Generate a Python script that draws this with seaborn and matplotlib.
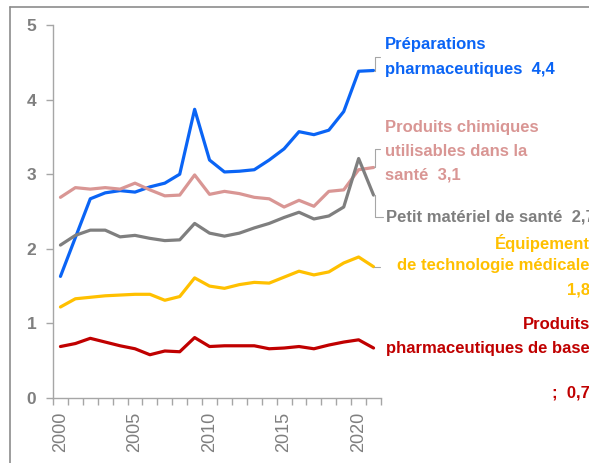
import numpy as np
import pandas as pd
import matplotlib
matplotlib.use("Agg")
import matplotlib.pyplot as plt
from matplotlib.lines import Line2D
import seaborn as sns

# ── Data ──────────────────────────────────────────────────────
years = list(range(2000, 2022))

preparations = [1.63, 2.15, 2.67, 2.75, 2.78, 2.76, 2.83, 2.88, 3.00, 3.87, 3.19,
                3.03, 3.04, 3.06, 3.19, 3.34, 3.57, 3.53, 3.59, 3.84, 4.38, 4.39]
chimiques = [2.69, 2.82, 2.80, 2.82, 2.80, 2.88, 2.79, 2.71, 2.72, 2.99, 2.73,
             2.77, 2.74, 2.69, 2.67, 2.56, 2.65, 2.57, 2.77, 2.79, 3.06, 3.09]
petit_materiel = [2.05, 2.18, 2.25, 2.25, 2.16, 2.18, 2.14, 2.11, 2.12, 2.34, 2.21,
                  2.17, 2.21, 2.28, 2.34, 2.42, 2.49, 2.40, 2.44, 2.56, 3.21, 2.72]
equipement = [1.22, 1.33, 1.35, 1.37, 1.38, 1.39, 1.39, 1.31, 1.36, 1.61, 1.50,
              1.47, 1.52, 1.55, 1.54, 1.62, 1.70, 1.65, 1.69, 1.81, 1.89, 1.76]
produits_base = [0.69, 0.73, 0.80, 0.75, 0.70, 0.66, 0.58, 0.63, 0.62, 0.81, 0.69,
                 0.70, 0.70, 0.70, 0.66, 0.67, 0.69, 0.66, 0.71, 0.75, 0.78, 0.67]

series_names = ["prep", "chim", "petit", "equip", "base"]
series_values = [preparations, chimiques, petit_materiel, equipement, produits_base]
colors = ["#0A64F5", "#D99694", "#7F7F7F", "#FFC000", "#C00000"]

y_ticks = [0, 1, 2, 3, 4, 5]
x_tick_labels = [2000, 2005, 2010, 2015, 2020]

df = pd.DataFrame({
    "annee": years * len(series_names),
    "valeur": sum(series_values, []),
    "serie": sum([[n] * len(years) for n in series_names], []),
})

# ── Figure ────────────────────────────────────────────────────
sns.set_style("white")
plt.rcParams["font.family"] = ["Liberation Sans", "DejaVu Sans"]

fig = plt.figure(figsize=(5.89, 4.63), dpi=100)
ax = fig.add_axes([53 / 589, 1 - 398 / 463, 328 / 589, 373 / 463])

sns.lineplot(data=df, x="annee", y="valeur", hue="serie",
             palette=dict(zip(series_names, colors)), linewidth=2.3,
             legend=False, ax=ax)

ax.set_xlim(1999.5, 2021.5)
ax.set_ylim(0, 5)
ax.set_xlabel("")
ax.set_ylabel("")

for side in ["top", "right"]:
    ax.spines[side].set_visible(False)
for side in ["left", "bottom"]:
    ax.spines[side].set_color("#A6A6A6")
    ax.spines[side].set_linewidth(1.0)

ax.set_yticks(y_ticks)
ax.set_yticklabels([str(t) for t in y_ticks], color="#7F7F7F",
                   fontweight="bold", fontsize=12.5)
ax.tick_params(axis="y", length=5, width=1, color="#A6A6A6", direction="out", pad=7, left=True)

# ticks sit between the years, labels every 5 years
ax.set_xticks([y + 0.5 for y in [1999] + years])
ax.set_xticks(x_tick_labels, minor=True)
ax.set_xticklabels([])
ax.set_xticklabels([str(t) for t in x_tick_labels], minor=True, rotation=90,
                   color="#7F7F7F", fontsize=13)
ax.tick_params(axis="x", which="major", length=5, width=1, color="#A6A6A6",
               direction="out", bottom=True)
ax.tick_params(axis="x", which="minor", length=0, pad=10)

# ── Labels ────────────────────────────────────────────────────
def px_y(py):
    return (398 - py) / 74.6


def px_x(px):
    return 2000 + (px - 62) / 14.9


def fmt(v):
    return f"{v:.1f}".replace(".", ",")


lab_kw = dict(fontsize=12, fontweight="bold", clip_on=False, va="center")

ax.text(px_x(386), px_y(45), "Préparations", color=colors[0], ha="left", **lab_kw)
ax.text(px_x(386), px_y(70), "pharmaceutiques  " + fmt(preparations[-1]),
        color=colors[0], ha="left", **lab_kw)

ax.text(px_x(386), px_y(128), "Produits chimiques", color=colors[1], ha="left", **lab_kw)
ax.text(px_x(386), px_y(152), "utilisables dans la", color=colors[1], ha="left", **lab_kw)
ax.text(px_x(386), px_y(175), "santé  " + fmt(chimiques[-1]),
        color=colors[1], ha="left", **lab_kw)

ax.text(px_x(387), px_y(217), "Petit matériel de santé  " + fmt(petit_materiel[-1]),
        color=colors[2], ha="left", **lab_kw)

ax.text(px_x(591), px_y(243), "Équipement", color=colors[3], ha="right", **lab_kw)
ax.text(px_x(591), px_y(266), "de technologie médicale", color=colors[3], ha="right", **lab_kw)
ax.text(px_x(591), px_y(290), fmt(equipement[-1]), color=colors[3], ha="right", **lab_kw)

ax.text(px_x(591), px_y(325), "Produits", color=colors[4], ha="right", **lab_kw)
ax.text(px_x(591), px_y(348), "pharmaceutiques de base", color=colors[4], ha="right", **lab_kw)
ax.text(px_x(591), px_y(393), ";  " + fmt(produits_base[-1]), color=colors[4], ha="right", **lab_kw)

# leader lines from each series end to its label
lead_kw = dict(color="#A6A6A6", lw=0.8, clip_on=False)
x_end = years[-1]
ax.plot([x_end, px_x(376), px_x(376), px_x(381)],
        [preparations[-1], preparations[-1], px_y(57), px_y(57)], **lead_kw)
ax.plot([x_end, px_x(376), px_x(376), px_x(381)],
        [chimiques[-1], chimiques[-1], px_y(149), px_y(149)], **lead_kw)
ax.plot([x_end, px_x(376), px_x(376), px_x(384)],
        [petit_materiel[-1], petit_materiel[-1], px_y(217), px_y(217)], **lead_kw)
ax.plot([x_end, px_x(381)], [equipement[-1], equipement[-1]], **lead_kw)

# outer frame of the original slide
fig.add_artist(Line2D([10 / 589, 10 / 589], [-0.1, 1 - 7 / 463],
                      transform=fig.transFigure, color="#8C8C8C", lw=1.2))
fig.add_artist(Line2D([10 / 589, 1.1], [1 - 7 / 463, 1 - 7 / 463],
                      transform=fig.transFigure, color="#8C8C8C", lw=1.2))

fig.savefig("out.png", dpi=100)
